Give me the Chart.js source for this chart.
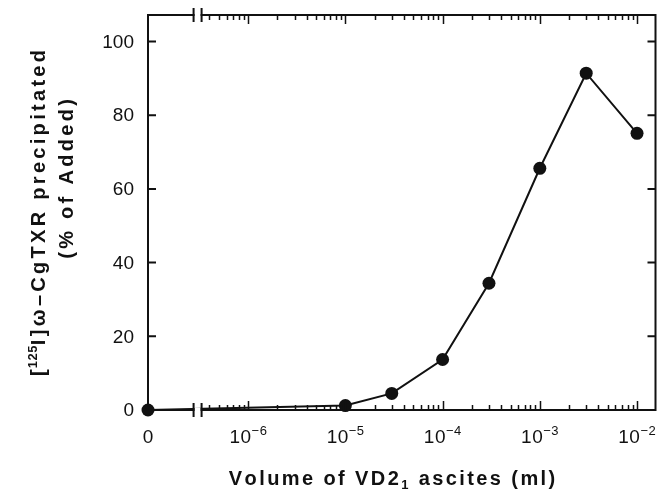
<!DOCTYPE html>
<html>
<head>
<meta charset="utf-8">
<script src="https://cdn.jsdelivr.net/npm/chart.js@4/dist/chart.umd.min.js"></script>
<style>
  html, body { margin: 0; padding: 0; background: #fff; }
  #wrap { width: 662px; height: 492px; }
</style>
</head>
<body>
<div id="wrap"><canvas id="chart" width="662" height="492"></canvas></div>
<script>
// volume of ascites (ml) and % of added toxin precipitated
const volumes = [0, 1e-5, 3e-5, 1e-4, 3e-4, 1e-3, 3e-3, 1e-2];
const precipitated = [0, 1.2, 4.5, 13.7, 34.4, 65.6, 91.4, 75.1];

const xTickValues = [0, 1e-6, 1e-5, 1e-4, 1e-3, 1e-2];
const xTickExponents = [null, "\u22126", "\u22125", "\u22124", "\u22123", "\u22122"];
const yTickValues = [0, 20, 40, 60, 80, 100];

// log axis range; zero volume sits at the left end, before the axis break
const xMin = Math.pow(10, -7.03);
const xMax = Math.pow(10, -1.81);
const xBreak = Math.pow(10, -6.52);
const yMax = 107.2;

const INK = "#111";
const FONT = "'Liberation Sans', Arial, Helvetica, sans-serif";

function toAxisX(v) { return v === 0 ? xMin : v; }

// draws text piece by piece: [text, size, yShift, spacing?], centred on x
function drawPieces(ctx, pieces, x, y, spacing, weight) {
  const gap = p => (p[3] === undefined ? spacing : p[3]);
  let total = 0;
  pieces.forEach(p => {
    ctx.font = `${weight} ${p[1]}px ${FONT}`;
    for (const ch of p[0]) total += ctx.measureText(ch).width + gap(p);
  });
  total -= spacing;
  let cx = x - total / 2;
  pieces.forEach(p => {
    ctx.font = `${weight} ${p[1]}px ${FONT}`;
    for (const ch of p[0]) {
      ctx.fillText(ch, cx, y + p[2]);
      cx += ctx.measureText(ch).width + gap(p);
    }
  });
}

const paperAxes = {
  id: "paperAxes",
  afterDatasetsDraw(chart) {
    const ctx = chart.ctx;
    const xs = chart.scales.x, ys = chart.scales.y;
    const L = chart.chartArea.left, R = chart.chartArea.right;
    const T = chart.chartArea.top, B = chart.chartArea.bottom;
    ctx.save();
    ctx.strokeStyle = INK;
    ctx.fillStyle = INK;

    // frame
    ctx.lineWidth = 2;
    ctx.beginPath();
    ctx.moveTo(L, T); ctx.lineTo(R, T); ctx.lineTo(R, B); ctx.lineTo(L, B); ctx.closePath();
    ctx.stroke();

    // axis break marks on top and bottom
    const bx = xs.getPixelForValue(xBreak);
    [T, B].forEach(y => {
      ctx.fillStyle = "#fff";
      ctx.fillRect(bx - 3, y - 2, 6, 4);
      ctx.fillStyle = INK;
      ctx.lineWidth = 2;
      ctx.beginPath();
      ctx.moveTo(bx - 4, y - 7); ctx.lineTo(bx - 4, y + 7);
      ctx.moveTo(bx + 4, y - 7); ctx.lineTo(bx + 4, y + 7);
      ctx.stroke();
    });

    // log ticks, pointing inward
    ctx.lineWidth = 1.5;
    for (let n = -7; n <= -2; n++) {
      for (let k = 1; k <= 9; k++) {
        const v = k * Math.pow(10, n);
        if (v < xBreak * 1.1 || v > xMax) continue;
        const px = Math.round(xs.getPixelForValue(v)) + 0.5;
        const len = k === 1 ? 9 : 5;
        ctx.beginPath();
        ctx.moveTo(px, B); ctx.lineTo(px, B - len);
        ctx.moveTo(px, T); ctx.lineTo(px, T + len);
        ctx.stroke();
      }
    }
    // y ticks on both sides
    ctx.lineWidth = 2;
    yTickValues.forEach(v => {
      const py = ys.getPixelForValue(v);
      ctx.beginPath();
      ctx.moveTo(L, py); ctx.lineTo(L + 8, py);
      ctx.moveTo(R, py); ctx.lineTo(R - 8, py);
      ctx.stroke();
    });

    // y tick labels
    ctx.font = `19px ${FONT}`;
    ctx.textAlign = "right";
    ctx.textBaseline = "middle";
    yTickValues.forEach(v => {
      ctx.fillText(String(v), L - 14, ys.getPixelForValue(v) + 1);
    });

    // x tick labels: 0 and powers of ten
    ctx.textAlign = "left";
    ctx.textBaseline = "alphabetic";
    xTickValues.forEach((v, i) => {
      const px = xs.getPixelForValue(toAxisX(v));
      if (xTickExponents[i] === null) {
        drawPieces(ctx, [["0", 19, 0]], px, B + 33, 0, "normal");
      } else {
        drawPieces(ctx, [["10", 19, 0], [xTickExponents[i], 13, -8]], px, B + 33, 0.5, "normal");
      }
    });

    // axis titles
    drawPieces(ctx, [["Volume of VD2", 20, 0], ["1", 13, 4], [" ascites (ml)", 20, 0]],
      392, 485, 2.4, "bold");

    ctx.save();
    ctx.translate(45, 213);
    ctx.rotate(-Math.PI / 2);
    drawPieces(ctx, [["[", 20, 0, 1], ["125", 13, -8, 0.5], ["I]\u03c9\u2013CgTXR precipitated", 20, 0]],
      0, 0, 3.3, "bold");
    ctx.restore();
    ctx.save();
    ctx.translate(73, 179);
    ctx.rotate(-Math.PI / 2);
    drawPieces(ctx, [["(% of Added)", 20, 0]], 0, 0, 3.3, "bold");
    ctx.restore();

    ctx.restore();
  }
};

const points = volumes.map((v, i) => ({ x: toAxisX(v), y: precipitated[i] }));

new Chart(document.getElementById("chart"), {
  type: "scatter",
  data: {
    datasets: [{
      data: points,
      showLine: true,
      borderColor: INK,
      borderWidth: 2,
      backgroundColor: INK,
      pointRadius: 6.5,
      pointBorderWidth: 0,
      clip: false
    }]
  },
  options: {
    responsive: false,
    animation: false,
    layout: { padding: { left: 148, top: 15, right: 0, bottom: 82 } },
    plugins: { legend: { display: false }, tooltip: { enabled: false } },
    scales: {
      x: { type: "logarithmic", min: xMin, max: xMax, display: false },
      y: { type: "linear", min: 0, max: yMax, display: false }
    }
  },
  plugins: [paperAxes]
});
</script>
</body>
</html>
